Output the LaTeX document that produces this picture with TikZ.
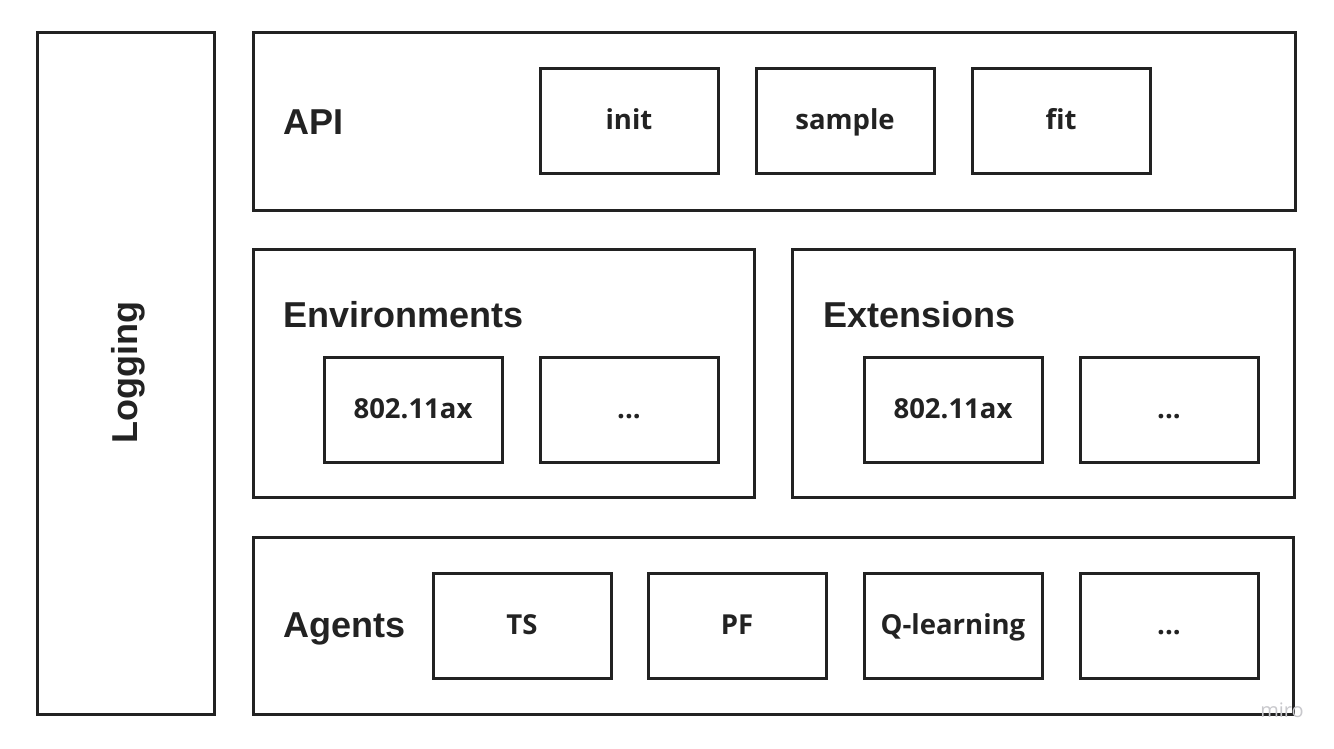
\documentclass[tikz,border=0pt]{standalone}
\usepackage{fontspec}
\setmainfont{Open Sans}
\newfontfamily\arialf{Liberation Sans}
\definecolor{ink}{HTML}{222222}
\definecolor{wm}{HTML}{C8C8CC}
\begin{document}
\begin{tikzpicture}[x=1pt,y=-1pt,
  frame/.style={draw=ink,line width=3pt,rectangle,inner sep=0pt,outer sep=0pt},
  item/.style={frame,minimum width=178pt,minimum height=105pt,
    font=\fontsize{27.5}{27.5}\selectfont\bfseries,text=ink,text height=17pt,text depth=0pt},
  head/.style={font=\arialf\fontsize{36}{36}\selectfont\bfseries,text=ink,inner sep=0pt,anchor=base west}]
\useasboundingbox (0,0) rectangle (1334,749);
\fill[white] (0,0) rectangle (1334,749);
% containers
\node[frame,minimum width=177pt,minimum height=681pt] (log) at (125.5,373.5) {};
\node[frame,minimum width=1042pt,minimum height=177pt] (api) at (774,121.5) {};
\node[frame,minimum width=501pt,minimum height=248pt] (env) at (503.5,373) {};
\node[frame,minimum width=502pt,minimum height=248pt] (ext) at (1043,373) {};
\node[frame,minimum width=1040pt,minimum height=177pt] (agents) at (773,625.5) {};
% headings
\node[font=\arialf\fontsize{36}{36}\selectfont\bfseries,text=ink,rotate=90,inner sep=0pt] (logt) at (128,373) {Logging};
\node[head] (apit) at (283,135) {API};
\node[head] (envt) at (283,327) {Environments};
\node[head] (extt) at (823,327) {Extensions};
\node[head] (agt) at (283,637) {Agents};
% items
\node[item] (init) at (629,121.5) {init};
\node[item] (sample) at (845,121.5) {sample};
\node[item] (fit) at (1061,121.5) {fit};
\node[item] (env1) at (413,409.5) {802.11ax};
\node[item] (env2) at (629,409.5) {...};
\node[item] (ext1) at (953,409.5) {802.11ax};
\node[item] (ext2) at (1169,409.5) {...};
\node[item] (ts) at (522,625.5) {TS};
\node[item] (pf) at (737,625.5) {PF};
\node[item] (ql) at (953,625.5) {Q-learning};
\node[item] (ag4) at (1169,625.5) {...};
% watermark
\node[text=wm,font=\fontsize{20}{20}\selectfont,inner sep=0pt,anchor=base] (miro) at (1282,717) {miro};
\end{tikzpicture}
\end{document}
